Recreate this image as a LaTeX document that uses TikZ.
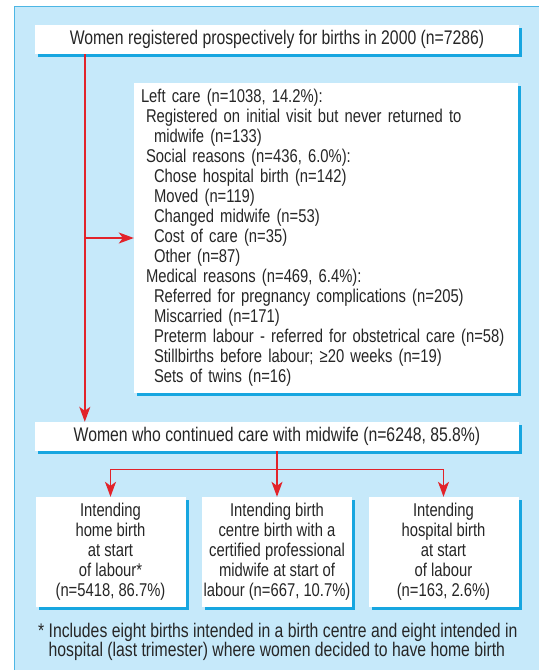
\documentclass[tikz,border=0pt]{standalone}
\usepackage{fontspec}
\setmainfont[FakeStretch=0.80]{Liberation Sans}
\usepackage{xcolor}
\usepackage{tikz}
\usetikzlibrary{arrows.meta,positioning,shadows}
\definecolor{panelblue}{HTML}{C6E9FA}
\definecolor{edgeblue}{HTML}{4DB6E4}
\definecolor{shadeblue}{HTML}{17A6E0}
\definecolor{flowred}{HTML}{E2232A}
\definecolor{inkgray}{HTML}{262626}

\begin{document}
\begin{tikzpicture}[x=1pt,y=-1pt,
                        font=\fontsize{18.5}{20}\selectfont,
                        box/.style={fill=white, inner sep=0pt, text=inkgray,
                                general shadow={fill=shadeblue, shadow xshift=3pt, shadow yshift=-3pt}},
                        banner/.style={box, minimum width=484pt, minimum height=29pt, font=\fontsize{19.7}{20}\selectfont},
                        outcome/.style={box, minimum width=150pt, minimum height=110pt, align=center},
                        wire/.style={draw=flowred, line width=1.4pt},
                        flow/.style={wire, -{Stealth[length=15pt,width=11pt,inset=4pt]}}]
                        \useasboundingbox (0,0) rectangle (539,670);
                        % panel
                        \fill[panelblue] (14,6) rectangle (539,670);
                        \draw[edgeblue, line width=1pt] (14,670) -- (14,6) -- (539,6);
                        % boxes
                        \node[banner] (reg) at (277,39.5)
                                {Women registered prospectively for births in 2000 (n=7286)};
                        \node[box, minimum width=384pt, minimum height=310pt, text width=374pt, align=left] (left) at (326,238)
                                {\hspace*{2pt}Left care (n=1038, 14.2\%):\\
                                 \hspace*{7pt}Registered on initial visit but never returned to\\
                                 \hspace*{15pt}midwife (n=133)\\
                                 \hspace*{7pt}Social reasons (n=436, 6.0\%):\\
                                 \hspace*{15pt}Chose hospital birth (n=142)\\
                                 \hspace*{15pt}Moved (n=119)\\
                                 \hspace*{15pt}Changed midwife (n=53)\\
                                 \hspace*{15pt}Cost of care (n=35)\\
                                 \hspace*{15pt}Other (n=87)\\
                                 \hspace*{7pt}Medical reasons (n=469, 6.4\%):\\
                                 \hspace*{15pt}Referred for pregnancy complications (n=205)\\
                                 \hspace*{15pt}Miscarried (n=171)\\
                                 \hspace*{15pt}Preterm labour - referred for obstetrical care (n=58)\\
                                 \hspace*{15pt}Stillbirths before labour; ≥20 weeks (n=19)\\
                                 \hspace*{15pt}Sets of twins (n=16)};
                        \node[banner] (cont) at (277,436.5)
                                {Women who continued care with midwife (n=6248, 85.8\%)};
                        \node[outcome] (home) at (110.5,552)
                                {Intending\\home birth\\at start\\of labour*\\(n=5418, 86.7\%)};
                        \node[outcome] (centre) at (277,552)
                                {Intending birth\\centre birth with a\\certified professional\\midwife at start of\\labour (n=667, 10.7\%)};
                        \node[outcome] (hosp) at (443.5,552)
                                {Intending\\hospital birth\\at start\\of labour\\(n=163, 2.6\%)};
                        \node[text=inkgray, anchor=north west, align=left, inner sep=0pt,
                                font=\fontsize{19.7}{19.5}\selectfont] (note) at (38,623)
                                {*~Includes eight births intended in a birth centre and eight intended in\\
                                 \phantom{*~}hospital (last trimester) where women decided to have home birth};
                        % connectors
                        \coordinate (trunk) at ([xshift=50pt]reg.south west);
                        \coordinate (fork) at ([yshift=-18pt]cont.south);
                        \draw[flow] (trunk) -- (trunk |- cont.north);
                        \draw[flow] (trunk |- left.west) -- (left.west);
                        \draw[flow] (cont.south) -- (centre.north);
                        \draw[wire] (home.north |- fork) -- (hosp.north |- fork);
                        \draw[flow] (home.north |- fork) -- (home.north);
                        \draw[flow] (hosp.north |- fork) -- (hosp.north);
                        \end{tikzpicture}
\end{document}
